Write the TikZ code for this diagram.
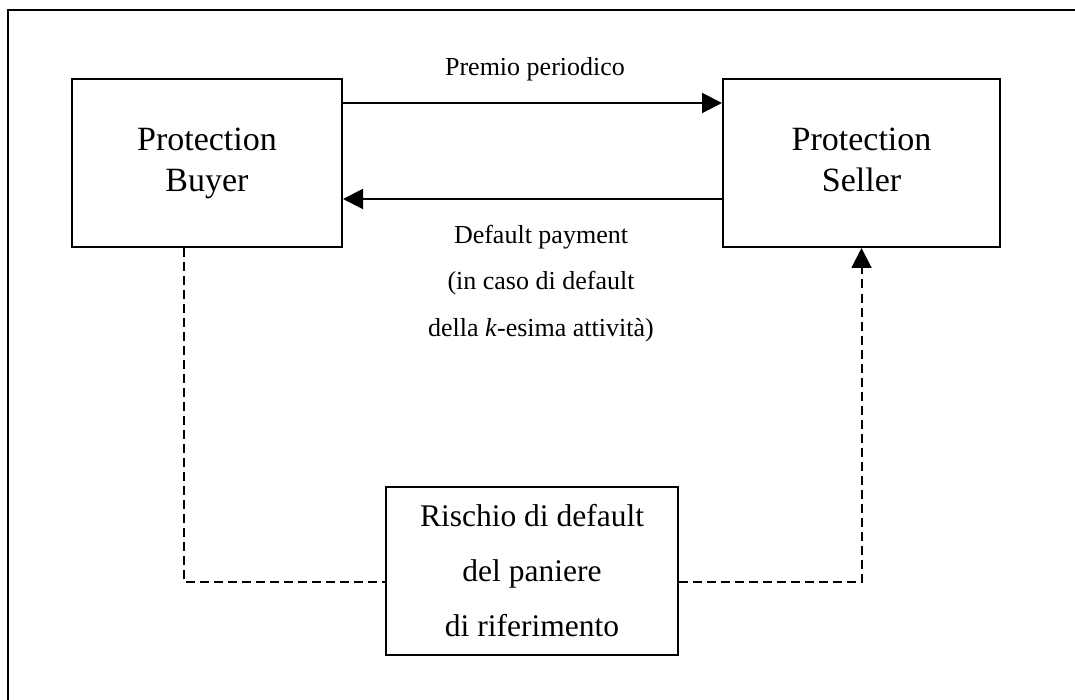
\documentclass[tikz,border=0pt]{standalone}
\usepackage{fontspec}
\setmainfont{Liberation Serif}
\usetikzlibrary{arrows.meta}
\begin{document}
\begin{tikzpicture}[x=1pt,y=-1pt,
  party/.style={draw,line width=2pt,minimum height=168pt,inner sep=0pt,
    align=center,font=\fontsize{34}{41}\selectfont},
  basket/.style={draw,line width=2pt,minimum width=292pt,minimum height=168pt,
    inner sep=0pt,align=center,font=\fontsize{31.5}{55}\selectfont},
  flow/.style={line width=2pt,-{Triangle[length=20pt,width=20pt]}},
  link/.style={line width=2pt,dash pattern=on 9pt off 5pt},
  lbl/.style={anchor=base,inner sep=0pt,font=\fontsize{26}{26}\selectfont}]
  \useasboundingbox (0,0) rectangle (1075,700);
  \begin{scope}
    \clip (0,0) rectangle (1075,700);
    % outer frame, only its top and left edges fall inside the page
    \draw[line width=2pt] (8,10) rectangle (1100,730);
  \end{scope}

  % the three parties
  \node[party,minimum width=270pt] (buyer) at (207,163) {Protection\\Buyer};
  \node[party,minimum width=277pt] (seller) at (861.5,163) {Protection\\Seller\vphantom{y}};
  \node[basket] (risk) at (532,571) {Rischio di default\\del paniere\\di riferimento};

  % routing points
  \coordinate (top) at (0,103);
  \coordinate (bot) at (0,199);
  \coordinate (bl) at (184,582);
  \coordinate (br) at (861.5,582);

  % payment flows
  \draw[flow] (buyer.east |- top) -- (seller.west |- top);
  \draw[flow] (seller.west |- bot) -- (buyer.east |- bot);

  % credit risk transfer
  \draw[link] (buyer.south -| bl) -- (bl) -- (risk.west |- bl);
  \draw[link,-{Triangle[length=20pt,width=20pt]}] (risk.east |- br) -- (br) -- (seller.south -| br);

  % flow labels
  \node[lbl] (prem) at (535,76) {Premio periodico};
  \node[lbl] (pay1) at (541,244) {Default payment};
  \node[lbl] (pay2) at (541,290) {(in caso di default};
  \node[lbl] (pay3) at (541,336) {della \textit{k}-esima attività)};
\end{tikzpicture}
\end{document}
